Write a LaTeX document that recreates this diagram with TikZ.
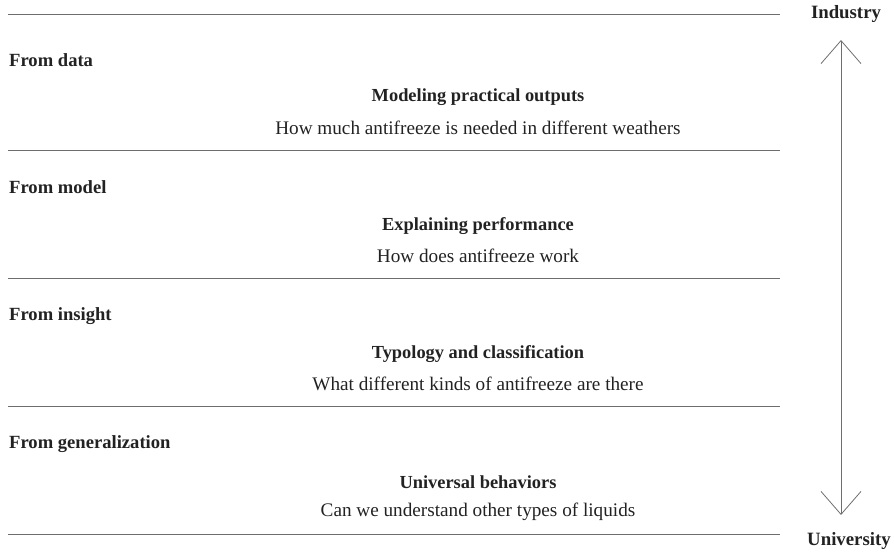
\documentclass[tikz,border=0pt]{standalone}
\usepackage{fontspec}
\setmainfont{Liberation Serif}
\usepackage{tikz}
\definecolor{rulegray}{HTML}{6E6E6E}
\definecolor{inkdark}{HTML}{222222}
\usetikzlibrary{positioning, arrows.meta}

\begin{document}
\begin{tikzpicture}[x=1pt,y=-1pt]
                    \tikzstyle{every node}=[text=inkdark, inner sep=0pt]
                    \tikzstyle{source} = [anchor=west, font=\fontsize{18.6}{21}\selectfont\bfseries]
                    \tikzstyle{heading} = [font=\fontsize{18.4}{21}\selectfont\bfseries]
                    \tikzstyle{example} = [font=\fontsize{19.2}{22}\selectfont]
                    \tikzstyle{pole} = [font=\fontsize{18.8}{21}\selectfont\bfseries]
                    \tikzstyle{separator} = [draw=rulegray, line width=0.9pt]
                    \tikzstyle{scalearrow} = [draw=rulegray, line width=0.8pt, {Straight Barb[length=23pt,width=40pt]}-{Straight Barb[length=23pt,width=40pt]}]

                    \useasboundingbox (0,0) rectangle (894,552);

                    % separators
                    \foreach \y in {14,150,278,406,534}
                        \draw[separator] (8,\y) -- (780,\y);

                    % data row
                    \node[source](src1) at (9,60) {From data};
                    \node[heading](head1) at (478,97) {Modeling practical outputs};
                    \node[example](ex1) at (478,128) {How much antifreeze is needed in different weathers};

                    % model row
                    \node[source](src2) at (9,187) {From model};
                    \node[heading](head2) at (478,226) {Explaining performance};
                    \node[example](ex2) at (478,256) {How does antifreeze work};

                    % insight row
                    \node[source](src3) at (9,316) {From insight};
                    \node[heading](head3) at (478,354) {Typology and classification};
                    \node[example](ex3) at (478,384) {What different kinds of antifreeze are there};

                    % generalization row
                    \node[source](src4) at (9,444) {From generalization};
                    \node[heading](head4) at (478,482) {Universal behaviors};
                    \node[example](ex4) at (478,512) {Can we understand other types of liquids};

                    % industry -- university scale
                    \node[pole](industry) at (846,14) {Industry};
                    \node[pole](university) at (849,541) {University};
                    \coordinate (scaletop) at (841,40);
                    \coordinate (scalebot) at (841,515);
                    \draw[scalearrow] (scalebot) -- (scaletop);
\end{tikzpicture}
\end{document}
